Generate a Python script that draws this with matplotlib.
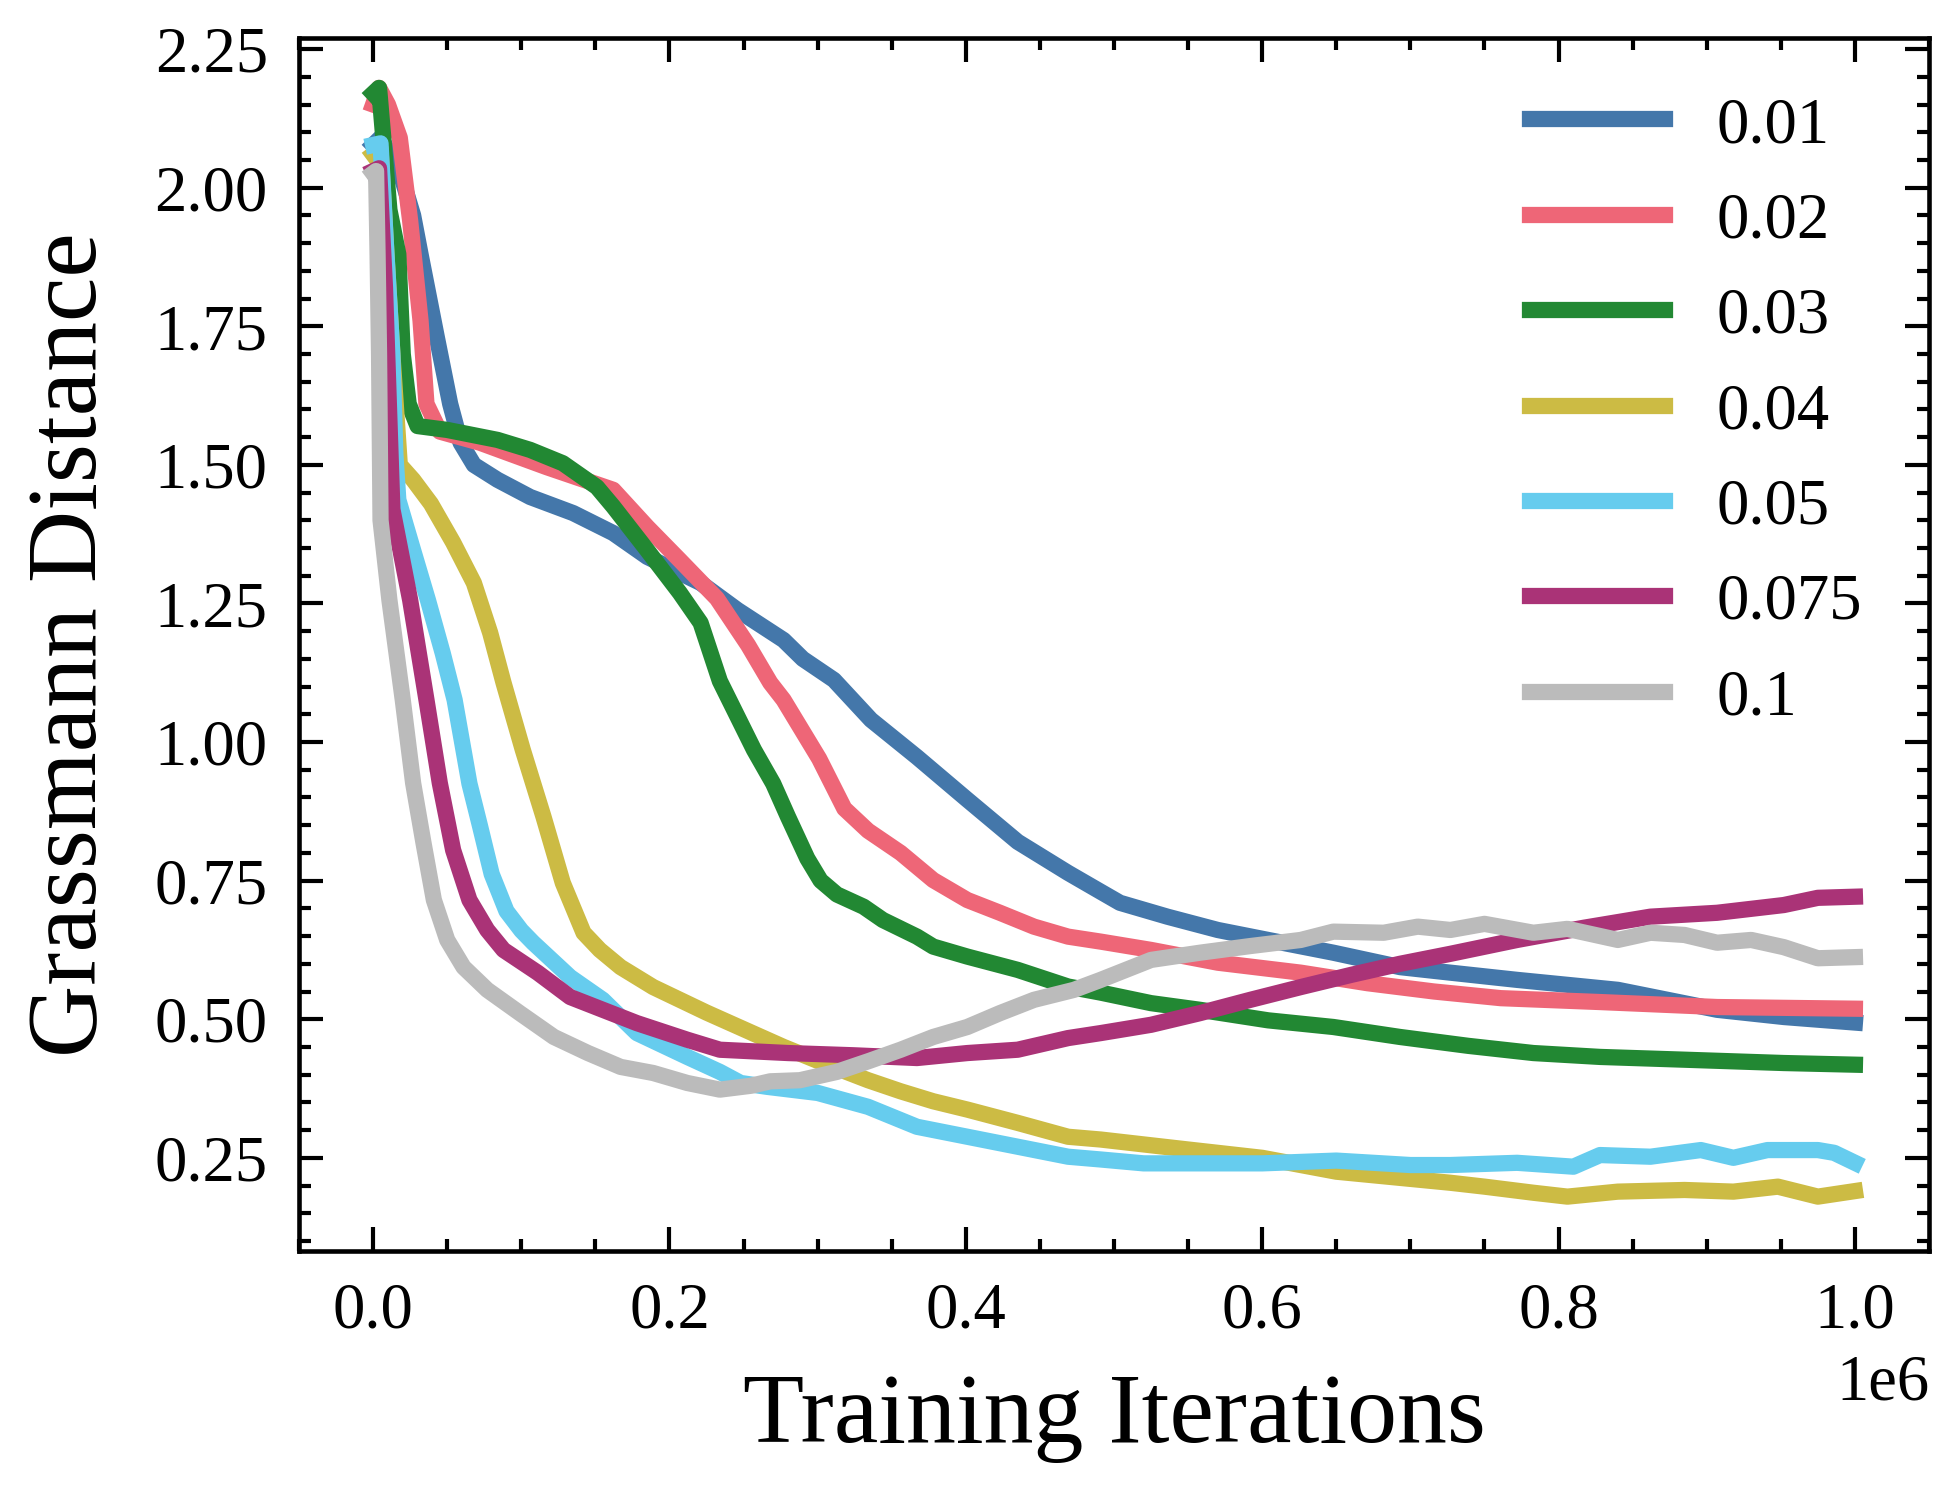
import matplotlib
matplotlib.use("Agg")
import matplotlib.pyplot as plt
import numpy as np
from matplotlib.ticker import AutoMinorLocator, MultipleLocator


LABELS = ["0.01", "0.02", "0.03", "0.04", "0.05", "0.075", "0.1"]
COLORS = ["#4477AA", "#EE6677", "#228833", "#CCBB44", "#66CCEE", "#AA3377", "#BBBBBB"]

# x in millions of iterations, y = Grassmann distance
X_001 = [0.000, 0.005, 0.018, 0.027, 0.032, 0.043, 0.052, 0.059, 0.068, 0.084, 0.106,
         0.135, 0.162, 0.185, 0.221, 0.246, 0.277, 0.290, 0.311, 0.336, 0.367, 0.401,
         0.435, 0.469, 0.491, 0.504, 0.536, 0.570, 0.604, 0.648, 0.693, 0.727, 0.772,
         0.840, 0.907, 0.952, 1.000]
Y_001 = [2.077, 2.090, 2.030, 1.950, 1.880, 1.730, 1.610, 1.540, 1.500, 1.473, 1.442,
         1.413, 1.377, 1.334, 1.287, 1.238, 1.184, 1.150, 1.112, 1.040, 0.973, 0.896,
         0.820, 0.764, 0.730, 0.710, 0.685, 0.661, 0.643, 0.620, 0.594, 0.584, 0.571,
         0.553, 0.517, 0.504, 0.494]

X_002 = [0.000, 0.004, 0.010, 0.018, 0.025, 0.032, 0.036, 0.045, 0.072, 0.117, 0.162,
         0.185, 0.207, 0.232, 0.253, 0.268, 0.277, 0.301, 0.318, 0.334, 0.356, 0.378,
         0.401, 0.423, 0.446, 0.469, 0.491, 0.525, 0.570, 0.626, 0.671, 0.716, 0.761,
         0.828, 0.907, 1.000]
Y_002 = [2.150, 2.180, 2.150, 2.090, 1.940, 1.760, 1.610, 1.560, 1.540, 1.496, 1.455,
         1.388, 1.328, 1.259, 1.175, 1.107, 1.076, 0.970, 0.880, 0.840, 0.800, 0.751,
         0.715, 0.692, 0.667, 0.649, 0.640, 0.625, 0.602, 0.584, 0.565, 0.550, 0.538,
         0.531, 0.522, 0.519]

X_003 = [0.000, 0.004, 0.011, 0.017, 0.020, 0.024, 0.030, 0.050, 0.084, 0.106, 0.128,
         0.151, 0.162, 0.185, 0.207, 0.221, 0.234, 0.257, 0.270, 0.280, 0.293, 0.302,
         0.313, 0.331, 0.344, 0.367, 0.378, 0.401, 0.435, 0.469, 0.491, 0.525, 0.558,
         0.604, 0.648, 0.693, 0.739, 0.783, 0.828, 0.885, 0.952, 1.000]
Y_003 = [2.170, 2.180, 1.960, 1.880, 1.700, 1.610, 1.570, 1.563, 1.545, 1.527, 1.503,
         1.460, 1.425, 1.346, 1.269, 1.215, 1.110, 0.986, 0.925, 0.865, 0.790, 0.750,
         0.725, 0.703, 0.679, 0.649, 0.631, 0.613, 0.589, 0.559, 0.548, 0.529, 0.517,
         0.498, 0.486, 0.468, 0.452, 0.439, 0.432, 0.427, 0.421, 0.418]

X_004 = [0.000, 0.005, 0.009, 0.013, 0.018, 0.027, 0.039, 0.054, 0.068, 0.079, 0.088,
         0.101, 0.115, 0.128, 0.142, 0.153, 0.167, 0.189, 0.225, 0.256, 0.277, 0.300,
         0.334, 0.356, 0.378, 0.401, 0.435, 0.469, 0.491, 0.550, 0.600, 0.650, 0.700,
         0.727, 0.750, 0.783, 0.806, 0.840, 0.885, 0.918, 0.948, 0.975, 1.000]
Y_004 = [2.060, 2.070, 1.880, 1.700, 1.500, 1.473, 1.430, 1.360, 1.287, 1.197, 1.107,
         0.986, 0.865, 0.746, 0.656, 0.625, 0.594, 0.558, 0.512, 0.475, 0.450, 0.425,
         0.390, 0.370, 0.352, 0.337, 0.313, 0.288, 0.283, 0.265, 0.250, 0.225, 0.212,
         0.205, 0.198, 0.187, 0.180, 0.189, 0.192, 0.189, 0.198, 0.180, 0.190]

X_005 = [0.000, 0.005, 0.009, 0.013, 0.015, 0.017, 0.027, 0.037, 0.047, 0.055, 0.065,
         0.072, 0.080, 0.090, 0.100, 0.108, 0.133, 0.155, 0.178, 0.212, 0.234, 0.248,
         0.266, 0.300, 0.334, 0.367, 0.401, 0.435, 0.469, 0.491, 0.520, 0.550, 0.600,
         0.650, 0.700, 0.727, 0.772, 0.810, 0.828, 0.862, 0.896, 0.918, 0.941, 0.975,
         0.986, 1.000]
Y_005 = [2.077, 2.080, 1.880, 1.700, 1.520, 1.437, 1.346, 1.256, 1.160, 1.076, 0.925,
         0.850, 0.762, 0.695, 0.660, 0.638, 0.576, 0.535, 0.475, 0.432, 0.405, 0.385,
         0.378, 0.367, 0.342, 0.306, 0.288, 0.270, 0.252, 0.247, 0.240, 0.240, 0.240,
         0.245, 0.237, 0.237, 0.241, 0.234, 0.255, 0.252, 0.264, 0.250, 0.264, 0.264,
         0.259, 0.241]

X_0075 = [0.000, 0.004, 0.008, 0.011, 0.013, 0.025, 0.036, 0.045, 0.054, 0.065, 0.077,
          0.088, 0.111, 0.133, 0.155, 0.178, 0.212, 0.234, 0.280, 0.324, 0.367, 0.401,
          0.435, 0.469, 0.491, 0.525, 0.558, 0.592, 0.626, 0.660, 0.693, 0.727, 0.772,
          0.817, 0.862, 0.907, 0.952, 0.975, 1.000]
Y_0075 = [2.030, 2.035, 1.820, 1.580, 1.420, 1.256, 1.076, 0.926, 0.805, 0.715, 0.661,
          0.625, 0.584, 0.540, 0.517, 0.493, 0.463, 0.445, 0.439, 0.435, 0.430, 0.439,
          0.445, 0.466, 0.475, 0.490, 0.511, 0.535, 0.558, 0.580, 0.600, 0.618, 0.643,
          0.665, 0.685, 0.692, 0.706, 0.719, 0.721]

X_01 = [0.000, 0.002, 0.003, 0.004, 0.005, 0.011, 0.020, 0.027, 0.034, 0.041, 0.050,
        0.061, 0.077, 0.099, 0.122, 0.145, 0.167, 0.189, 0.212, 0.234, 0.255, 0.268,
        0.288, 0.313, 0.335, 0.356, 0.378, 0.401, 0.423, 0.446, 0.473, 0.491, 0.525,
        0.558, 0.592, 0.626, 0.648, 0.682, 0.705, 0.727, 0.750, 0.783, 0.806, 0.840,
        0.862, 0.885, 0.907, 0.930, 0.952, 0.975, 1.000]
Y_01 = [2.026, 2.030, 1.880, 1.700, 1.400, 1.256, 1.076, 0.926, 0.818, 0.715, 0.643,
        0.594, 0.553, 0.511, 0.468, 0.439, 0.414, 0.403, 0.385, 0.373, 0.380, 0.388,
        0.390, 0.405, 0.425, 0.445, 0.468, 0.486, 0.511, 0.535, 0.553, 0.571, 0.607,
        0.620, 0.632, 0.643, 0.658, 0.656, 0.667, 0.661, 0.672, 0.656, 0.663, 0.643,
        0.656, 0.652, 0.638, 0.643, 0.630, 0.610, 0.612]

SERIES = [
    (X_001, Y_001),
    (X_002, Y_002),
    (X_003, Y_003),
    (X_004, Y_004),
    (X_005, Y_005),
    (X_0075, Y_0075),
    (X_01, Y_01),
]


def style_axes(ax):
    ax.set_xlim(-0.05e6, 1.05e6)
    ax.set_ylim(0.082, 2.27)
    ax.xaxis.set_major_locator(MultipleLocator(0.2e6))
    ax.xaxis.set_minor_locator(AutoMinorLocator(4))
    ax.yaxis.set_major_locator(MultipleLocator(0.25))
    ax.yaxis.set_minor_locator(AutoMinorLocator(5))
    ax.tick_params(which="both", direction="in", top=True, right=True, width=1.0)
    ax.tick_params(which="major", length=5.8, pad=7.5, labelsize=15.5)
    ax.tick_params(which="minor", length=2.9)
    for spine in ax.spines.values():
        spine.set_linewidth(1.1)
    ax.xaxis.get_offset_text().set_fontsize(15.5)


def main():
    plt.rcParams["font.family"] = ["Liberation Serif", "DejaVu Serif"]

    fig = plt.figure(figsize=(1957 / 300, 1496 / 300), dpi=300)
    ax = fig.add_axes([0.1528, 0.1638, 0.8329, 0.8108])

    for (xs, ys), label, color in zip(SERIES, LABELS, COLORS):
        ax.plot(np.array(xs) * 1e6, ys, color=color, lw=3.9, label=label,
                solid_joinstyle="round")

    style_axes(ax)
    ax.set_xlabel("Training Iterations", fontsize=24, labelpad=7.5)
    ax.set_ylabel("Grassmann Distance", fontsize=24, labelpad=9)

    ax.legend(
        loc="upper right",
        bbox_to_anchor=(0.975, 0.973),
        borderaxespad=0,
        frameon=False,
        fontsize=15.5,
        handlelength=2.1,
        handletextpad=0.8,
        labelspacing=0.555,
    )

    fig.savefig("out.png", dpi=300)
    plt.close(fig)


if __name__ == "__main__":
    main()
